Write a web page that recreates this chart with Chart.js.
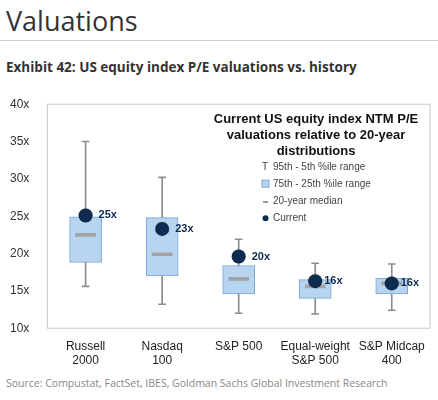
<!DOCTYPE html>
<html><head><meta charset="utf-8">
<script src="https://cdn.jsdelivr.net/npm/chart.js@4"></script>
<style>
body{margin:0;background:#fff;font-family:"Liberation Sans",Arial,sans-serif;width:438px;height:400px;position:relative;overflow:hidden}
#t1{position:absolute;left:6px;top:2px;font-size:27px;color:#333;font-family:"Open Sans",sans-serif}
#line{position:absolute;left:0;top:40px;width:438px;border-top:1px solid #ccc}
#t2{position:absolute;left:6px;top:58px;font-size:13.5px;font-weight:bold;color:#333;font-family:"Open Sans",sans-serif}
#src{position:absolute;left:6px;top:376px;font-size:10.5px;color:#888;font-family:"Open Sans",sans-serif}
#wrap{position:absolute;left:0;top:87px;width:438px;height:284px}
</style></head><body>
<div id="t1">Valuations</div><div id="line"></div>
<div id="t2">Exhibit 42: US equity index P/E valuations vs. history</div>
<div id="wrap"><canvas id="c"></canvas></div>
<div id="src">Source: Compustat, FactSet, IBES, Goldman Sachs Global Investment Research</div>
<script>
"use strict";
// カテゴリ
const categories = [["Russell", "2000"], ["Nasdaq", "100"], "S&P 500", ["Equal-weight", "S&P 500"], ["S&P Midcap", "400"]];
const p95 = [35.0, 30.2, 21.9, 18.7, 18.6];
const p5 = [15.6, 13.2, 12.0, 11.9, 12.4];
const p75 = [24.9, 24.8, 18.4, 16.5, 16.7];
const p25 = [18.8, 17.0, 14.6, 14.0, 14.6];
const median = [22.5, 19.9, 16.6, 15.6, 16.0];
const current = [25.1, 23.3, 19.6, 16.3, 16.0];
const currentLabels = ["25x", "23x", "20x", "16x", "16x"];
const yTicks = [10, 15, 20, 25, 30, 35, 40];

const navy = "#0d2b4e";

const extras = {
    id: "extras",
    afterDraw(chart) {
        const {ctx, chartArea: a} = chart;
        ctx.save();
        // 枠線
        ctx.strokeStyle = "#c8c8c8";
        ctx.lineWidth = 1;
        ctx.strokeRect(a.left, a.top, a.right - a.left, a.bottom - a.top);
        // 数値ラベル
        const meta = chart.getDatasetMeta(4);
        ctx.fillStyle = navy;
        ctx.font = "bold 11px 'Liberation Sans', Arial";
        ctx.textBaseline = "middle";
        meta.data.forEach((pt, i) => {
            const off = i >= 3 ? 9 : 13;
            ctx.fillText(currentLabels[i], pt.x + off, pt.y);
        });
        // 凡例
        ctx.textAlign = "center";
        ctx.fillStyle = "#111";
        ctx.font = "bold 13px 'Liberation Sans', Arial";
        const cx = 316;
        ["Current US equity index NTM P/E", "valuations relative to 20-year", "distributions"]
            .forEach((s, i) => ctx.fillText(s, cx, a.top + 15 + i * 16));
        ctx.textAlign = "left";
        ctx.font = "10px 'Liberation Sans', Arial";
        ctx.fillStyle = "#444";
        const lx = 262, ly = a.top + 63;
        const items = ["95th - 5th %ile range", "75th - 25th %ile range", "20-year median", "Current"];
        items.forEach((s, i) => ctx.fillText(s, lx + 11, ly + i * 17));
        ctx.fillText("T", lx, ly);
        ctx.fillStyle = "#b7d5f1"; ctx.strokeStyle = "#7aa6d2";
        ctx.fillRect(lx, ly + 17 - 4, 7, 7); ctx.strokeRect(lx, ly + 17 - 4, 7, 7);
        ctx.fillStyle = "#777"; ctx.fillRect(lx + 1, ly + 34, 5, 1.5);
        ctx.fillStyle = navy; ctx.beginPath(); ctx.arc(lx + 3.5, ly + 51, 3, 0, 7); ctx.fill();
        ctx.restore();
    }
};

new Chart(document.getElementById("c"), {
    type: "bar",
    data: {
        labels: categories,
        datasets: [
            { data: p95.map((v, i) => [p5[i], v]), backgroundColor: "#8c8c8c", barThickness: 1, order: 4 },
            { data: p5.map(v => [v - 0.06, v + 0.06]), backgroundColor: "#8c8c8c", barThickness: 7, order: 4 },
            { data: p95.map(v => [v - 0.06, v + 0.06]), backgroundColor: "#8c8c8c", barThickness: 7, order: 4 },
            { data: p75.map((v, i) => [p25[i], v]), backgroundColor: "#b7d5f1", borderColor: "#7aa6d2", borderWidth: 1, borderSkipped: false, barThickness: 32, order: 3 },
            { type: "scatter", data: current.map((v, i) => ({x: i, y: v})), backgroundColor: navy, pointRadius: 7, pointHoverRadius: 7, order: 0 },
            { data: median.map(v => [v - 0.2, v + 0.2]), backgroundColor: "#a3a3a3", barThickness: 20, order: 1 }
        ]
    },
    options: {
        animation: false,
        responsive: true,
        maintainAspectRatio: false,
        layout: { padding: { right: 0, top: 16 } },
        plugins: { legend: { display: false }, tooltip: { enabled: false } },
        datasets: { bar: { grouped: false } },
        scales: {
            x: {
                type: "category",
                grid: { display: false },
                border: { display: false },
                ticks: { color: "#222", font: { size: 12, family: "'Liberation Sans', Arial" }, maxRotation: 0, autoSkip: false }
            },
            y: {
                min: 10, max: 40,
                afterBuildTicks: s => { s.ticks = yTicks.map(v => ({value: v})); },
                grid: { display: false },
                border: { display: false },
                ticks: { color: "#333", font: { size: 12, family: "'Liberation Sans', Arial" }, padding: 10, callback: v => v + "x" }
            }
        }
    },
    plugins: [extras]
});
</script>
</body></html>
